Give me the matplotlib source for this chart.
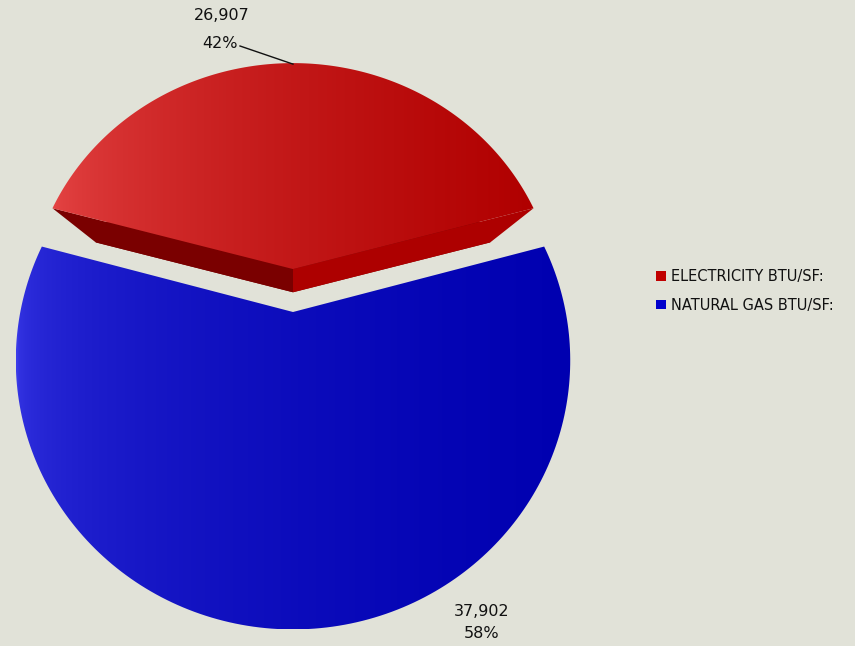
import numpy as np
import matplotlib
matplotlib.use("Agg")
import matplotlib.pyplot as plt
from matplotlib.patches import Polygon, Patch

categories = ["ELECTRICITY BTU/SF:", "NATURAL GAS BTU/SF:"]
values = [26907, 37902]
value_labels = ["26,907", "37,902"]

bg = "#e1e2d8"
top_grad = [("#e64646", "#b00000"), ("#3c3cea", "#0000b0")]
grad_pow = [0.6, 0.33]
legend_colors = ["#c00000", "#0000cc"]

# projection of the tilted pie (pie units -> pixel coords)
CX, CY, S, C, K = 293, 312, 272.7, 0.9545, 0.18
VX, VY, LAM = 293, 398, 0.82   # vanishing point for depth
EXPLODE = 0.17


def proj(u, v):
    d = 1 + K * v
    return CX + S * u / d, CY - S * C * v / d


def to_bottom(xy):
    xy = np.asarray(xy)
    return np.column_stack([VX + (xy[:, 0] - VX) * LAM, VY + (xy[:, 1] - VY) * LAM])


fig = plt.figure(figsize=(8.55, 6.46), dpi=100)
fig.patch.set_facecolor(bg)
ax = fig.add_axes([0, 0, 1, 1])
ax.set_xlim(0, 855)
ax.set_ylim(646, 0)
ax.axis("off")

total = sum(values)
fracs = [v / total for v in values]
# first slice centred at the top
start = 90 - fracs[0] * 180
bounds = []
a = start
for f in fracs:
    bounds.append((a, a + f * 360))
    a += f * 360

for i, (a1, a2) in enumerate(bounds):
    mid = np.radians((a1 + a2) / 2)
    ox, oy = (EXPLODE * np.cos(mid), EXPLODE * np.sin(mid)) if i == 0 else (0, 0)
    rad = 0.985 if i == 0 else 1.0
    th = np.radians(np.linspace(a1, a2, 200))
    us = np.concatenate([[ox], ox + rad * np.cos(th)])
    vs = np.concatenate([[oy], oy + rad * np.sin(th)])
    px, py = proj(us, vs)
    top = np.column_stack([px, py])

    if i == 0:
        bot = to_bottom(top)
        ax.add_patch(Polygon(bot, closed=True, facecolor="#780000", edgecolor="none"))
        # radial side faces
        left = [top[0], top[-1], bot[-1], bot[0]]
        right = [top[0], top[1], bot[1], bot[0]]
        ax.add_patch(Polygon(right, closed=True, facecolor="#ad0000", edgecolor="none"))
        ax.add_patch(Polygon(left, closed=True, facecolor="#7a0000", edgecolor="none"))

    poly = Polygon(top, closed=True, facecolor="none", edgecolor="none")
    ax.add_patch(poly)
    c1, c2 = (np.array(matplotlib.colors.to_rgb(c)) for c in top_grad[i])
    t = (np.linspace(0, 1, 256) ** grad_pow[i])[None, :, None]
    grad = c1 + (c2 - c1) * t
    im = ax.imshow(grad, extent=(px.min(), px.max(), py.max(), py.min()),
                   aspect="auto", interpolation="bilinear", zorder=2)
    im.set_clip_path(poly)

# labels
pct = [f"{round(f * 100)}%" for f in fracs]
tx, ty = proj(0, EXPLODE + 0.985)
txt = dict(ha="center", va="center", fontsize=11.5, color="#111111")
ax.text(222, 16, value_labels[0], **txt)
ax.text(220, 44, pct[0], **txt)
ax.plot([240, tx], [46, ty + 1], color="#111111", lw=1)

ax.text(482, 612, value_labels[1], **txt)
ax.text(482, 634, pct[1], **txt)

handles = [Patch(facecolor=c, edgecolor="none") for c in legend_colors]
fig.legend(handles, categories, loc="center left", bbox_to_anchor=(0.752, 0.55),
           frameon=False, fontsize=10.5, handlelength=0.65, handleheight=0.65,
           handletextpad=0.4, labelspacing=0.95, labelcolor="#111111")

fig.savefig("out.png", dpi=100, facecolor=bg)
